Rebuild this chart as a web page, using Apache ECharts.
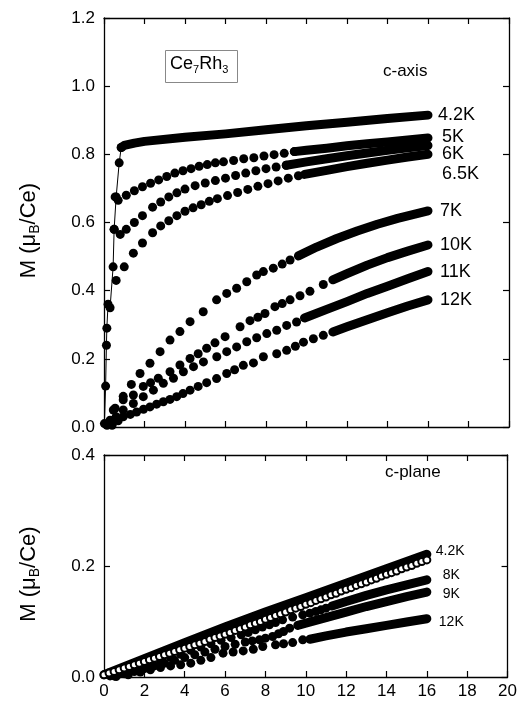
<!DOCTYPE html>
<html><head><meta charset="utf-8">
<script src="https://cdn.jsdelivr.net/npm/echarts@6/dist/echarts.min.js"></script>
<style>html,body{margin:0;padding:0;background:#fff}#c{width:520px;height:704px}</style>
</head><body><div id="c"></div>
<script>
// ---------- Top panel (c-axis) ----------
const top42Steep = [[0.02,0.01],[0.08,0.12],[0.12,0.24],[0.14,0.29],[0.2,0.36],[0.3,0.35],[0.45,0.47],[0.5,0.58],[0.6,0.675],[0.75,0.775],[0.85,0.82]];
const top42Band = [[0.85,0.82],[1.0,0.826],[1.5,0.833],[2,0.838],[4,0.85],[6,0.86],[8,0.872],[10,0.884],[12,0.894],[14,0.905],[16,0.915]];
const top5Dots = [[0.55,0.675],[0.7,0.665],[1.1,0.68],[1.5,0.693],[1.9,0.705],[2.3,0.715],[2.7,0.725],[3.1,0.735],[3.5,0.745],[3.9,0.752],[4.3,0.758],[4.7,0.765],[5.1,0.77],[5.5,0.775],[5.9,0.778],[6.4,0.782],[6.9,0.787],[7.4,0.79],[7.9,0.795],[8.4,0.799],[8.9,0.803],[9.4,0.808]];
const top5Band = [[9.4,0.808],[10,0.812],[11,0.818],[12,0.825],[13,0.831],[14,0.836],[15,0.842],[16,0.848]];
const top6Dots = [[0.5,0.58],[0.8,0.565],[1.1,0.58],[1.5,0.6],[1.9,0.62],[2.4,0.645],[2.8,0.66],[3.2,0.675],[3.6,0.687],[4.0,0.698],[4.5,0.708],[5.0,0.716],[5.5,0.723],[6.0,0.73],[6.5,0.738],[7.0,0.745],[7.5,0.752],[8.0,0.758],[8.5,0.763],[9.0,0.768]];
const top6Band = [[9,0.768],[10,0.778],[11,0.787],[12,0.796],[13,0.804],[14,0.812],[15,0.819],[16,0.826]];
const top65Dots = [[0.6,0.43],[1.0,0.47],[1.45,0.51],[1.9,0.54],[2.4,0.57],[2.8,0.59],[3.2,0.605],[3.6,0.62],[4.0,0.633],[4.4,0.643],[4.8,0.652],[5.2,0.662],[5.6,0.67],[6.1,0.679],[6.6,0.688],[7.1,0.697],[7.6,0.706],[8.1,0.714],[8.6,0.722],[9.1,0.73],[9.6,0.737]];
const top65Band = [[9.9,0.741],[11,0.753],[12,0.764],[13,0.774],[14,0.783],[15,0.792],[16,0.8]];
const top7Dots = [[0.3,0.02],[0.55,0.055],[0.95,0.09],[1.35,0.125],[1.78,0.157],[2.27,0.187],[2.77,0.221],[3.26,0.255],[3.75,0.28],[4.25,0.309],[4.9,0.338],[5.56,0.373],[6.06,0.392],[6.55,0.407],[7.05,0.426],[7.54,0.446],[7.87,0.456],[8.36,0.466],[8.8,0.478],[9.19,0.49]];
const top7Band = [[9.6,0.502],[10.5,0.528],[11.5,0.553],[12.5,0.575],[13.5,0.595],[14.5,0.612],[15.3,0.624],[16,0.634]];
const top10Dots = [[0.15,0.005],[0.46,0.05],[0.95,0.08],[1.45,0.094],[1.94,0.119],[2.3,0.13],[2.68,0.143],[3.26,0.162],[3.75,0.182],[4.25,0.201],[4.65,0.215],[5.07,0.231],[5.48,0.247],[5.98,0.265],[6.72,0.294],[7.21,0.312],[7.6,0.322],[7.95,0.333],[8.44,0.353],[8.8,0.362],[9.19,0.373],[9.68,0.385],[10.17,0.398],[10.83,0.418]];
const top10Band = [[11.3,0.432],[12,0.45],[13,0.475],[14,0.497],[15,0.516],[16,0.534]];
const top11Dots = [[0.3,0.01],[0.6,0.03],[0.95,0.05],[1.45,0.069],[1.94,0.089],[2.44,0.108],[2.93,0.128],[3.43,0.143],[3.92,0.162],[4.42,0.177],[4.91,0.191],[5.57,0.206],[6.06,0.221],[6.55,0.235],[7.05,0.25],[7.54,0.262],[8.04,0.274],[8.53,0.284],[9.02,0.298],[9.51,0.308]];
const top11Band = [[9.9,0.32],[11,0.345],[12,0.368],[13,0.392],[14,0.413],[15,0.435],[16,0.456]];
const top12Dots = [[0.4,0.005],[0.7,0.018],[0.95,0.03],[1.3,0.037],[1.61,0.044],[1.95,0.052],[2.27,0.059],[2.6,0.067],[2.93,0.074],[3.26,0.081],[3.59,0.089],[3.9,0.098],[4.25,0.108],[4.65,0.119],[5.07,0.13],[5.56,0.142],[6.06,0.157],[6.45,0.168],[6.88,0.181],[7.38,0.188],[7.87,0.206],[8.53,0.215],[9.02,0.225],[9.45,0.237],[9.85,0.249],[10.34,0.259],[10.83,0.269]];
const top12Band = [[11.3,0.279],[12,0.294],[13,0.315],[14,0.335],[15,0.355],[16,0.373]];

// ---------- Bottom panel (c-plane) ----------
const bot42Band = [[0,0.004],[2,0.033],[4,0.062],[6,0.09],[8,0.117],[10,0.143],[12,0.169],[14,0.195],[16,0.221]];
const botOpen = [[0,0.004],[0.25,0.007],[0.5,0.010],[0.75,0.013],[1,0.016],[1.25,0.019],[1.5,0.022],[1.75,0.025],[2,0.028],
[2.25,0.031],[2.5,0.034],[2.75,0.037],[3,0.040],[3.25,0.043],[3.5,0.046],[3.75,0.049],[4,0.052],
[4.25,0.055],[4.5,0.058],[4.75,0.061],[5,0.064],[5.25,0.068],[5.5,0.071],[5.75,0.074],[6,0.077],
[6.25,0.080],[6.5,0.084],[6.75,0.087],[7,0.090],[7.25,0.094],[7.5,0.097],[7.75,0.100],[8,0.104],
[8.25,0.107],[8.5,0.111],[8.75,0.114],[9,0.117],[9.25,0.121],[9.5,0.124],[9.75,0.127],[10,0.131],
[10.25,0.134],[10.5,0.138],[10.75,0.141],[11,0.144],[11.25,0.148],[11.5,0.151],[11.75,0.155],[12,0.158],
[12.25,0.161],[12.5,0.165],[12.75,0.168],[13,0.171],[13.25,0.175],[13.5,0.178],[13.75,0.182],[14,0.185],
[14.25,0.188],[14.5,0.191],[14.75,0.195],[15,0.198],[15.25,0.201],[15.5,0.205],[15.75,0.208],[16,0.211]];
const bot8Dots = [[0.3,0.002],[0.8,0.006],[1.3,0.011],[1.8,0.017],[2.3,0.023],[2.8,0.029],[3.3,0.035],[3.8,0.041],[4.3,0.048],[4.8,0.054],[5.3,0.06],[5.8,0.066],[6.3,0.071],[6.8,0.076],[7.15,0.08],[7.5,0.085],[7.85,0.09],[8.2,0.094],[8.5,0.098],[8.85,0.103],[9.35,0.108],[9.85,0.112],[10.2,0.115],[10.5,0.118],[10.75,0.121],[11.0,0.124]];
const bot8Band = [[11.3,0.128],[12,0.136],[13,0.147],[14,0.157],[15,0.166],[16,0.175]];
const bot9Dots = [[0.5,0.002],[1.0,0.006],[1.5,0.01],[2.0,0.015],[2.5,0.02],[3.0,0.025],[3.5,0.03],[4.0,0.035],[4.5,0.04],[5.0,0.045],[5.5,0.05],[6.0,0.055],[6.5,0.059],[7.0,0.063],[7.35,0.065],[7.7,0.067],[8.0,0.07],[8.36,0.073],[8.65,0.078],[8.9,0.082],[9.2,0.088]];
const bot9Band = [[9.6,0.093],[10,0.097],[11,0.107],[12,0.117],[13,0.127],[14,0.136],[15,0.145],[16,0.153]];
const bot12Dots = [[0.6,0.001],[1.2,0.004],[1.8,0.009],[2.3,0.013],[2.8,0.017],[3.3,0.02],[3.8,0.022],[4.3,0.025],[4.8,0.03],[5.3,0.035],[5.9,0.043],[6.4,0.045],[6.9,0.047],[7.4,0.05],[7.87,0.055],[8.5,0.058],[8.9,0.06],[9.35,0.062],[9.85,0.067]];
const bot12Band = [[10.2,0.068],[11,0.074],[12,0.081],[13,0.087],[14,0.093],[15,0.099],[16,0.105]];

const FONT = '"Liberation Sans", Arial, sans-serif';
const chart = echarts.init(document.getElementById('c'), null, {renderer:'canvas'});

function dots(data, xi, yi, size) {
  return {type:'scatter', data, xAxisIndex:xi, yAxisIndex:yi, symbol:'circle', symbolSize:size||9,
    itemStyle:{color:'#000', opacity:1}, silent:true, clip:false, animation:false, z:3};
}
function band(name, data, xi, yi, width, fs, offset, dist) {
  return {type:'line', name, data, xAxisIndex:xi, yAxisIndex:yi, symbol:'none', silent:true,
    lineStyle:{color:'#000', width, cap:'round', join:'round', opacity:1}, animation:false, z:3,
    endLabel:{show:true, formatter:name, color:'#000', fontSize:fs, fontFamily:FONT, distance:dist, offset:offset}};
}
function xAx(gi, pos, showLabel) {
  return {type:'value', gridIndex:gi, position:pos, min:0, max:20, interval:2,
    axisLine:{show:true, onZero:false, lineStyle:{color:'#000', width:1.3}},
    axisTick:{show:true, inside:true, length:6, lineStyle:{color:'#000', width:1.2}},
    axisLabel:{show:showLabel, color:'#000', fontSize:17, fontFamily:FONT, margin:6},
    splitLine:{show:false}};
}
function yAx(gi, pos, max, showLabel, name) {
  const a = {type:'value', gridIndex:gi, position:pos, min:0, max, interval:0.2,
    axisLine:{show:true, onZero:false, lineStyle:{color:'#000', width:1.3}},
    axisTick:{show:true, inside:true, length:6, lineStyle:{color:'#000', width:1.2}},
    axisLabel:{show:showLabel, color:'#000', fontSize:17, fontFamily:FONT, margin:9, formatter:v=>v.toFixed(1)},
    splitLine:{show:false}};
  if (name) {
    a.name = '{m|M (μ}{s|B}{m|/Ce)}';
    a.nameLocation = 'middle'; a.nameGap = 62; a.nameRotate = 90;
    a.nameTextStyle = {color:'#000', fontFamily:FONT, padding:[0,0,0,-16], rich:{
      m:{fontSize:22, fontFamily:FONT, color:'#000'},
      s:{fontSize:14, fontFamily:FONT, color:'#000', padding:[12,0,0,0]}}};
  }
  return a;
}

const option = {
  backgroundColor:'#fff',
  animation:false,
  grid:[{left:104, top:18, width:405, height:409},{left:104, top:455, width:405, height:222}],
  xAxis:[xAx(0,'bottom',false), xAx(0,'top',false), xAx(1,'bottom',true), xAx(1,'top',false)],
  yAxis:[yAx(0,'left',1.2,true,true), yAx(0,'right',1.2,false,false), yAx(1,'left',0.4,true,true), yAx(1,'right',0.4,false,false)],
  series:[
    {type:'line', data:top42Steep, xAxisIndex:0, yAxisIndex:0, symbol:'circle', symbolSize:9, showAllSymbol:true,
      itemStyle:{color:'#000', opacity:1}, lineStyle:{color:'#000', width:1}, silent:true, clip:false, animation:false, z:3},
    band('4.2K', top42Band, 0, 0, 9, 18, [0,0], 10),
    dots(top5Dots,0,0), band('5K', top5Band, 0, 0, 9, 18, [4,-1], 10),
    dots(top6Dots,0,0), band('6K', top6Band, 0, 0, 9, 18, [4,9], 10),
    dots(top65Dots,0,0), band('6.5K', top65Band, 0, 0, 9, 18, [4,20], 10),
    dots(top7Dots,0,0), band('7K', top7Band, 0, 0, 9, 18, [2,0], 10),
    dots(top10Dots,0,0), band('10K', top10Band, 0, 0, 9, 18, [2,0], 10),
    dots(top11Dots,0,0), band('11K', top11Band, 0, 0, 9, 18, [2,0], 10),
    dots(top12Dots,0,0), band('12K', top12Band, 0, 0, 9, 18, [2,0], 10),
    band('4.2K', bot42Band, 2, 2, 9, 14, [0,-3], 9),
    {type:'line', data:botOpen, xAxisIndex:2, yAxisIndex:2, symbol:'emptyCircle', symbolSize:7, showAllSymbol:true,
      itemStyle:{color:'#000', borderColor:'#000', borderWidth:0.9, opacity:1}, lineStyle:{width:0, opacity:0}, silent:true, clip:false, animation:false, z:4},
    dots(bot8Dots,2,2), band('8K', bot8Band, 2, 2, 9, 14, [7,-5], 9),
    dots(bot9Dots,2,2), band('9K', bot9Band, 2, 2, 9, 14, [7,2], 9),
    dots(bot12Dots,2,2), band('12K', bot12Band, 2, 2, 9, 14, [3,3], 9)
  ],
  graphic:[
    {type:'rect', left:165, top:50, shape:{width:72, height:32}, style:{fill:'#fff', stroke:'#888', lineWidth:1}, z:10},
    {type:'text', left:170, top:55, z:11, style:{text:'{m|Ce}{s|7}{m|Rh}{s|3}', fill:'#000', font:'17px '+FONT,
      rich:{m:{fontSize:18, fontFamily:FONT, fill:'#000'}, s:{fontSize:11, fontFamily:FONT, fill:'#000', padding:[11,0,0,0]}}}},
    {type:'text', left:383, top:63, z:11, style:{text:'c-axis', fill:'#000', font:'17px '+FONT}},
    {type:'text', left:385, top:464, z:11, style:{text:'c-plane', fill:'#000', font:'17px '+FONT}}
  ]
};
chart.setOption(option);
</script></body></html>
